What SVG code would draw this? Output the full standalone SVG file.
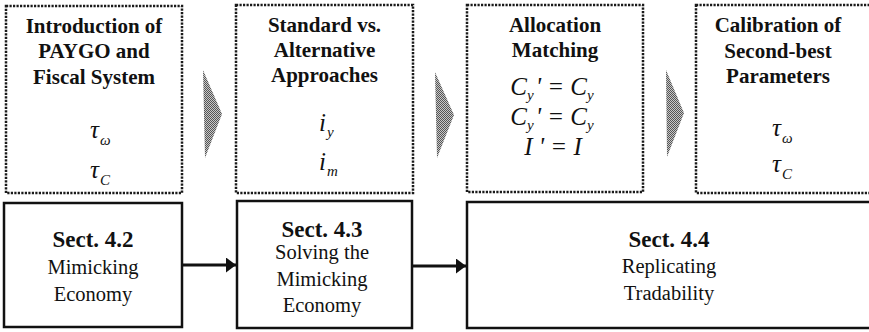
<svg xmlns="http://www.w3.org/2000/svg" width="869" height="332" viewBox="0 0 869 332">
<style>
text{font-family:'Liberation Serif','Times New Roman',serif;fill:#111}
.dot{fill:none;stroke:#1a1a1a;stroke-width:2.5;stroke-dasharray:2.2 1.3}
.solid{fill:#fff;stroke:#111;stroke-width:2.5}
.t{font-weight:bold;font-size:21px;text-anchor:middle}
.s{font-weight:bold;font-size:23px;text-anchor:middle}
.r{font-size:20.5px;text-anchor:middle}
.m{font-style:italic;font-size:25px}
.mc{font-style:italic;font-size:25px;text-anchor:middle}
.sub{font-size:15px}
.chev{fill:url(#hatch)}
.conn{stroke:#111;stroke-width:3;fill:none;marker-end:url(#ah)}
</style>
<defs>
<pattern id="hatch" width="2" height="2" patternUnits="userSpaceOnUse">
<rect width="2" height="2" fill="#c8c8c8"/>
<rect width="1" height="1" fill="#555"/>
<rect x="1" y="1" width="1" height="1" fill="#555"/>
</pattern>
<marker id="ah" markerUnits="userSpaceOnUse" markerWidth="11" markerHeight="15" refX="10" refY="7.5" orient="auto">
<path d="M0,0 L10,7.5 L0,15 z" fill="#111"/>
</marker>
</defs>
<rect width="869" height="332" fill="#fff"/>

<g id="chevrons">
<polygon class="chev" points="203,70 222,114 205,158"/>
<polygon class="chev" points="435,72 454,115 437,158"/>
<polygon class="chev" points="666,70 684,113 667,157"/>
</g>

<g id="n1">
<rect class="dot" x="6" y="6" width="176" height="187"/>
<text class="t" x="94" y="33">Introduction of</text>
<text class="t" x="94" y="58">PAYGO and</text>
<text class="t" x="94" y="84">Fiscal System</text>
<text class="m" x="90" y="138">τ<tspan class="sub" dy="7" dx="1">ω</tspan></text>
<text class="m" x="90" y="178">τ<tspan class="sub" dy="7" dx="1">C</tspan></text>
</g>

<g id="n2">
<rect class="dot" x="236" y="5" width="177" height="188"/>
<text class="t" x="324.5" y="32">Standard vs.</text>
<text class="t" x="324.5" y="57">Alternative</text>
<text class="t" x="324.5" y="82">Approaches</text>
<text class="m" x="319" y="131">i<tspan class="sub" dy="6" dx="1">y</tspan></text>
<text class="m" x="319" y="170">i<tspan class="sub" dy="6" dx="1">m</tspan></text>
</g>

<g id="n3">
<rect class="dot" x="467" y="5" width="176" height="187"/>
<text class="t" x="555" y="32">Allocation</text>
<text class="t" x="555" y="57">Matching</text>
<text class="mc" x="552" y="95">C<tspan class="sub" dy="5">y</tspan><tspan dy="-5" dx="2">' = C</tspan><tspan class="sub" dy="5">y</tspan></text>
<text class="mc" x="552" y="125">C<tspan class="sub" dy="5">y</tspan><tspan dy="-5" dx="2">' = C</tspan><tspan class="sub" dy="5">y</tspan></text>
<text class="mc" x="553" y="155">I  ' = I</text>
</g>

<g id="n4">
<rect class="dot" x="696" y="5" width="184" height="188"/>
<text class="t" x="778" y="32">Calibration of</text>
<text class="t" x="778" y="58">Second-best</text>
<text class="t" x="778" y="83">Parameters</text>
<text class="m" x="772" y="136">τ<tspan class="sub" dy="7" dx="1">ω</tspan></text>
<text class="m" x="772" y="172">τ<tspan class="sub" dy="7" dx="1">C</tspan></text>
</g>

<g id="nA">
<rect class="solid" x="4" y="203" width="178" height="124"/>
<text class="s" x="93" y="247">Sect. 4.2</text>
<text class="r" x="93" y="274">Mimicking</text>
<text class="r" x="93" y="301">Economy</text>
</g>

<g id="nB">
<rect class="solid" x="237" y="201" width="175" height="127"/>
<text class="s" x="322" y="237">Sect. 4.3</text>
<text class="r" x="322" y="259">Solving the</text>
<text class="r" x="322" y="286">Mimicking</text>
<text class="r" x="322" y="312">Economy</text>
</g>

<g id="nC">
<rect class="solid" x="467" y="202" width="413" height="126"/>
<text class="s" x="669" y="247">Sect. 4.4</text>
<text class="r" x="669" y="273">Replicating</text>
<text class="r" x="669" y="300">Tradability</text>
</g>

<g id="connectors">
<line class="conn" x1="183" y1="265" x2="236" y2="265"/>
<line class="conn" x1="413" y1="266" x2="466" y2="266"/>
</g>
</svg>
